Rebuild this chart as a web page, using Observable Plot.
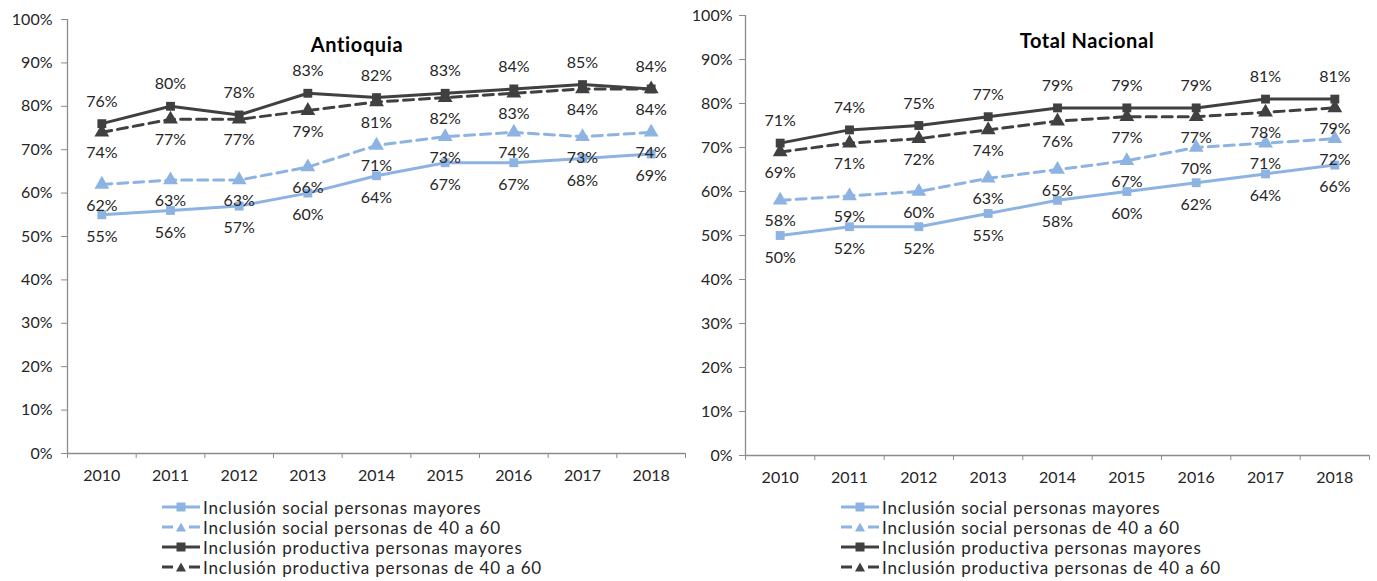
<!DOCTYPE html>
<html><head><meta charset="utf-8">
<script src="https://cdn.jsdelivr.net/npm/d3@7"></script>
<script src="https://cdn.jsdelivr.net/npm/@observablehq/plot@0.6"></script>
<style>
body{margin:0;background:#fff;}
#wrap{position:relative;width:1377px;height:581px;overflow:hidden;font-family:Lato,sans-serif;color:#262626;background:#fff;}
.chart{position:absolute;top:0;}
.title{position:absolute;font-weight:bold;font-size:20px;letter-spacing:0.6px;transform:translate(-50%,-50%);white-space:nowrap;color:#000;}
.legend{position:absolute;font-size:17px;letter-spacing:0.85px;color:#262626;}
.legend .row{position:absolute;display:flex;align-items:center;white-space:nowrap;height:20px;transform:translateY(-50%);}
.legend svg{display:block;margin-right:3px;}
</style></head><body><div id="wrap"></div>
<script>
// ---- data ----
const years = [2010, 2011, 2012, 2013, 2014, 2015, 2016, 2017, 2018];
const yTicks = [0, 10, 20, 30, 40, 50, 60, 70, 80, 90, 100];
const seriesNames = [
  "Inclusión social personas mayores",
  "Inclusión social personas de 40 a 60",
  "Inclusión productiva personas mayores",
  "Inclusión productiva personas de 40 a 60"
];
const chartTitles = ["Antioquia", "Total Nacional"];

// Antioquia
const antSocialMayores     = [55, 56, 57, 60, 64, 67, 67, 68, 69];
const antSocial4060        = [62, 63, 63, 66, 71, 73, 74, 73, 74];
const antProductivaMayores = [76, 80, 78, 83, 82, 83, 84, 85, 84];
const antProductiva4060    = [74, 77, 77, 79, 81, 82, 83, 84, 84];

// Total Nacional
const natSocialMayores     = [50, 52, 52, 55, 58, 60, 62, 64, 66];
const natSocial4060        = [58, 59, 60, 63, 65, 67, 70, 71, 72];
const natProductivaMayores = [71, 74, 75, 77, 79, 79, 79, 81, 81];
const natProductiva4060    = [69, 71, 72, 74, 76, 77, 77, 78, 79];

// ---- styles ----
const LIGHT = "#8db3e2", DARK = "#404040", AXIS = "#8c8c8c", TXT = "#262626";
const styles = [
  {color: LIGHT, dash: null,   symbol: "square",   labelDy: 22},
  {color: LIGHT, dash: "10,6", symbol: "triangle", labelDy: 21},
  {color: DARK,  dash: null,   symbol: "square",   labelDy: -22},
  {color: DARK,  dash: "10,6", symbol: "triangle", labelDy: 21}
];

const wrap = document.getElementById("wrap");

function makeChart(valuesList, title, geom) {
  const marks = [];
  const boundaries = years.map(y => y - 0.5).concat([years[years.length - 1] + 0.5]);
  marks.push(Plot.ruleY([0], {stroke: AXIS, strokeWidth: 1.3}));
  marks.push(Plot.ruleX([years[0] - 0.5], {stroke: AXIS, strokeWidth: 1.3}));
  marks.push(Plot.axisY({ticks: yTicks, tickFormat: d => d + "%", tickSize: 6, tickPadding: geom.yPad, stroke: AXIS, fill: TXT, label: null, letterSpacing: 0.3}));
  marks.push(Plot.axisX({ticks: years, tickFormat: d => String(d), tickSize: 0, tickPadding: 16, fill: TXT, label: null, letterSpacing: 0.5}));
  marks.push(Plot.axisX({ticks: boundaries, tickFormat: () => "", tickSize: 5, stroke: AXIS, label: null}));
  const tables = valuesList.map((vals, s) => years.map((yr, i) => ({year: yr, value: vals[i], s})));
  tables.forEach((rows, s) => {
    const st = styles[s];
    marks.push(Plot.line(rows, {x: "year", y: "value", stroke: st.color, strokeWidth: 3, strokeDasharray: st.dash}));
  });
  tables.forEach((rows, s) => {
    const st = styles[s];
    marks.push(Plot.dot(rows, {x: "year", y: "value", symbol: st.symbol, r: st.symbol === "square" ? 5 : 5.5, fill: st.color, stroke: "none"}));
  });
  tables.forEach((rows, s) => {
    const st = styles[s];
    marks.push(Plot.text(rows, {x: "year", y: "value", text: d => d.value + "%", dy: st.labelDy, fill: TXT, fontSize: 16, letterSpacing: 0.3}));
  });
  const svg = Plot.plot({
    width: geom.width, height: geom.height,
    marginLeft: geom.ml, marginRight: geom.mr, marginTop: geom.mt, marginBottom: geom.mb,
    x: {type: "linear", domain: [years[0] - 0.5, years[years.length - 1] + 0.5], label: null},
    y: {domain: [0, 100], label: null},
    style: {fontFamily: "Lato, sans-serif", fontSize: "16px", background: "transparent", color: TXT, overflow: "visible"},
    marks
  });
  svg.classList.add("chart");
  svg.style.left = geom.left + "px";
  wrap.appendChild(svg);

  const t = document.createElement("div");
  t.className = "title";
  t.textContent = title;
  t.style.left = geom.titleX + "px";
  t.style.top = geom.titleY + "px";
  wrap.appendChild(t);

  const lg = document.createElement("div");
  lg.className = "legend";
  lg.style.left = geom.legendX + "px";
  lg.style.top = "0px";
  seriesNames.forEach((name, s) => {
    const st = styles[s];
    const row = document.createElement("div");
    row.className = "row";
    row.style.top = (507 + s * 20) + "px";
    const ns = "http://www.w3.org/2000/svg";
    const sw = document.createElementNS(ns, "svg");
    sw.setAttribute("width", 38); sw.setAttribute("height", 14);
    const ln = document.createElementNS(ns, "line");
    ln.setAttribute("x1", 0); ln.setAttribute("x2", 38); ln.setAttribute("y1", 7); ln.setAttribute("y2", 7);
    ln.setAttribute("stroke", st.color); ln.setAttribute("stroke-width", 3);
    if (st.dash) ln.setAttribute("stroke-dasharray", "11,16");
    sw.appendChild(ln);
    if (st.symbol === "square") {
      const r = document.createElementNS(ns, "rect");
      r.setAttribute("x", 14.5); r.setAttribute("y", 2.5); r.setAttribute("width", 9); r.setAttribute("height", 9);
      r.setAttribute("fill", st.color);
      sw.appendChild(r);
    } else {
      const p = document.createElementNS(ns, "path");
      p.setAttribute("d", "M19,2.5L24,11.5L14,11.5Z");
      p.setAttribute("fill", st.color);
      sw.appendChild(p);
    }
    row.appendChild(sw);
    const tx = document.createElement("span");
    tx.textContent = name;
    row.appendChild(tx);
    lg.appendChild(row);
  });
  wrap.appendChild(lg);
}

makeChart([antSocialMayores, antSocial4060, antProductivaMayores, antProductiva4060], chartTitles[0],
  {left: 0, width: 690, height: 490, ml: 67, mr: 5, mt: 19, mb: 37, yPad: 9, titleX: 357, titleY: 44, legendX: 162});
makeChart([natSocialMayores, natSocial4060, natProductivaMayores, natProductiva4060], chartTitles[1],
  {left: 680, width: 697, height: 490, ml: 65, mr: 8, mt: 15, mb: 35, yPad: 7, titleX: 1087, titleY: 40, legendX: 841});
</script></body></html>
